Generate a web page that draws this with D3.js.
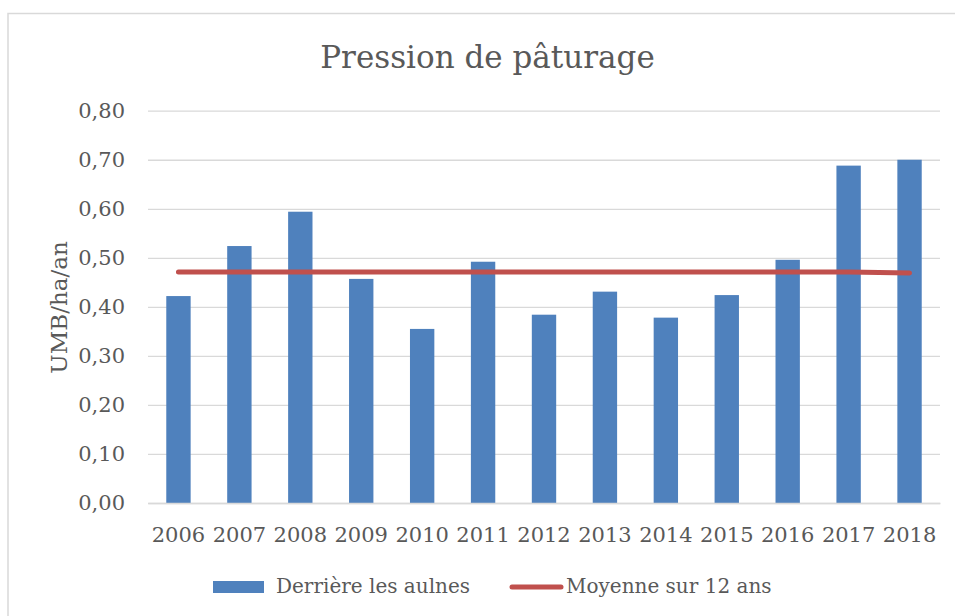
<!DOCTYPE html>
<html>
<head>
<meta charset="utf-8">
<script src="https://cdn.jsdelivr.net/npm/d3@7"></script>
<style>
  body { margin: 0; background: #fff; overflow: hidden; }
  svg { display: block; }
  text { font-family: "DejaVu Serif", "Liberation Serif", serif; fill: #595959; }
</style>
</head>
<body>
<div id="chart"></div>
<script>
// data
const years = ["2006", "2007", "2008", "2009", "2010", "2011", "2012", "2013", "2014", "2015", "2016", "2017", "2018"];
const pression = [0.422, 0.524, 0.594, 0.457, 0.355, 0.492, 0.384, 0.431, 0.378, 0.424, 0.496, 0.688, 0.700];
const moyenne = [0.471, 0.471, 0.471, 0.471, 0.471, 0.471, 0.471, 0.471, 0.471, 0.471, 0.471, 0.471, 0.469];
const yTicks = [0, 0.1, 0.2, 0.3, 0.4, 0.5, 0.6, 0.7, 0.8];

const width = 955, height = 616;
const plotLeft = 148, plotRight = 940, plotTop = 110.7, plotBottom = 503;

const svg = d3.select("#chart").append("svg")
  .attr("width", width)
  .attr("height", height);

// chart frame: only left and top edges are inside the picture
svg.append("path")
  .attr("d", `M8,${height} V13.5 H${width}`)
  .attr("fill", "none")
  .attr("stroke", "#d9d9d9")
  .attr("stroke-width", 1.5);

const x = d3.scaleBand()
  .domain(years)
  .range([plotLeft, plotRight])
  .paddingInner(0.6)
  .paddingOuter(0.3);

const y = d3.scaleLinear()
  .domain([0, 0.8])
  .range([plotBottom, plotTop]);

const fmt = v => d3.format(".2f")(v).replace(".", ",");

// gridlines + y labels
const yAxis = svg.append("g")
  .attr("transform", `translate(${plotLeft},0)`)
  .call(d3.axisLeft(y).tickValues(yTicks).tickFormat(fmt).tickSize(-(plotRight - plotLeft)).tickPadding(23));
yAxis.select(".domain").remove();
yAxis.selectAll(".tick line").attr("stroke", "#d9d9d9").attr("stroke-width", 1.3);
yAxis.selectAll(".tick text")
  .attr("font-size", 21)
  .attr("font-family", "DejaVu Serif")
  .attr("fill", "#595959");

// bars
svg.append("g")
  .selectAll("rect")
  .data(years)
  .enter()
  .append("rect")
  .attr("x", d => x(d))
  .attr("width", x.bandwidth())
  .attr("y", (d, i) => y(pression[i]))
  .attr("height", (d, i) => y(0) - y(pression[i]))
  .attr("fill", "#4f81bd");

// x axis
const xAxis = svg.append("g")
  .attr("transform", `translate(0,${plotBottom})`)
  .call(d3.axisBottom(x).tickSize(0).tickPadding(24));
xAxis.select(".domain").attr("stroke", "#d9d9d9").attr("stroke-width", 1.5);
xAxis.selectAll(".tick text")
  .attr("font-size", 21)
  .attr("font-family", "DejaVu Serif")
  .attr("fill", "#595959");

// average line
const line = d3.line()
  .x((d, i) => x(years[i]) + x.bandwidth() / 2)
  .y(d => y(d));

svg.append("path")
  .datum(moyenne)
  .attr("d", line)
  .attr("fill", "none")
  .attr("stroke", "#c0504d")
  .attr("stroke-width", 5)
  .attr("stroke-linecap", "round");

// title
svg.append("text")
  .attr("x", 487.5).attr("y", 68)
  .attr("text-anchor", "middle")
  .attr("font-size", 31)
  .text("Pression de pâturage");

// y axis title
svg.append("text")
  .attr("transform", "translate(66.5,307.5) rotate(-90)")
  .attr("text-anchor", "middle")
  .attr("font-size", 23)
  .text("UMB/ha/an");

// legend
const legend = svg.append("g");
legend.append("rect")
  .attr("x", 213).attr("y", 581)
  .attr("width", 51).attr("height", 12)
  .attr("fill", "#4f81bd");
legend.append("text")
  .attr("x", 276).attr("y", 593)
  .attr("font-size", 20)
  .text("Derrière les aulnes");
legend.append("line")
  .attr("x1", 512).attr("x2", 561)
  .attr("y1", 587).attr("y2", 587)
  .attr("stroke", "#c0504d")
  .attr("stroke-width", 5)
  .attr("stroke-linecap", "round");
legend.append("text")
  .attr("x", 566).attr("y", 593)
  .attr("font-size", 20)
  .text("Moyenne sur 12 ans");
</script>
</body>
</html>
